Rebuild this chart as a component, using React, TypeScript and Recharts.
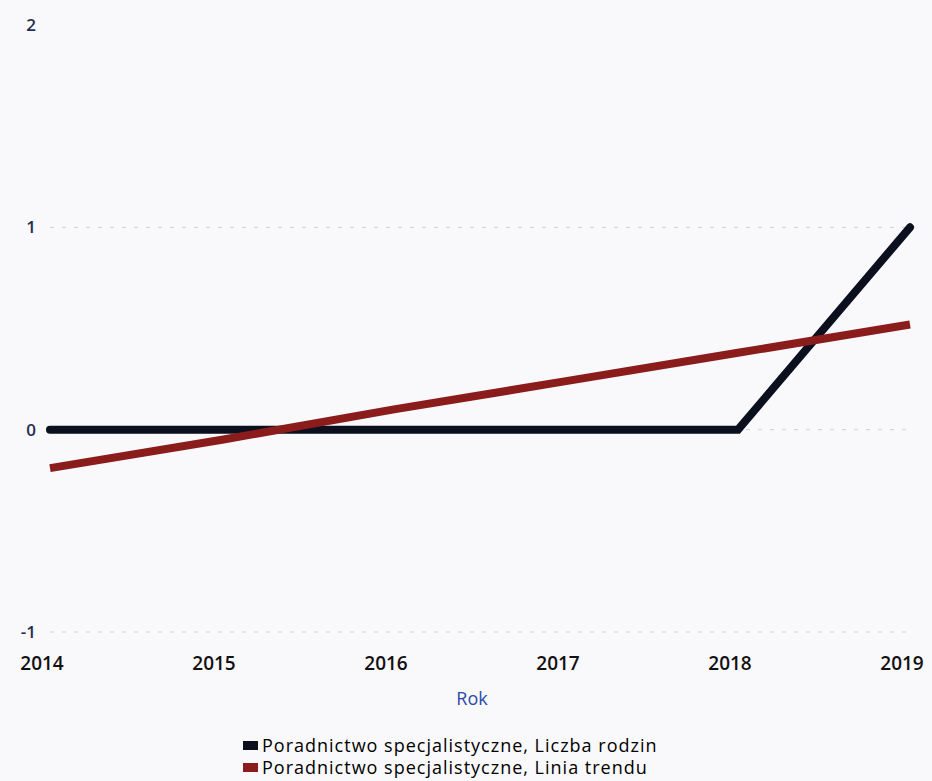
import React from 'react';
import {
  LineChart, Line, XAxis, YAxis, CartesianGrid,
} from 'recharts';

const years = ['2014', '2015', '2016', '2017', '2018', '2019'];
const families = [0, 0, 0, 0, 0, 1];
const trend = [-0.19, -0.05, 0.1, 0.24, 0.38, 0.52];
const yTicks = [-1, 0, 1, 2];
const gridValues = [-1, 0, 1];

const seriesNames = [
  'Poradnictwo specjalistyczne, Liczba rodzin',
  'Poradnictwo specjalistyczne, Linia trendu',
];
const colors = ['#0b0f1e', '#8a1c1c'];

const data = years.map((year, i) => ({ year, families: families[i], trend: trend[i] }));

const FONT = '"Open Sans", "DejaVu Sans", sans-serif';

const YearTick = ({ x, y, payload }: { x?: number; y?: number; payload?: { value: string } }) => (
  <text x={(x ?? 0) - 8} y={(y ?? 0) + 30} textAnchor="middle" fontFamily={FONT} fontSize={19} fontWeight={600} fill="#111">
    {payload?.value}
  </text>
);

const ValueTick = ({ x, y, payload }: { x?: number; y?: number; payload?: { value: number } }) => (
  <text x={(x ?? 0) - 6} y={(y ?? 0) + 6} textAnchor="end" fontFamily={FONT} fontSize={17} fontWeight={600} fill="#1f2d4d">
    {payload?.value}
  </text>
);

export default function App() {
  return (
    <div style={{ position: 'relative', width: 932, height: 781, background: '#f9f8fb', fontFamily: FONT }}>
      <style>{'body{margin:0}'}</style>
      <LineChart width={932} height={781} data={data} margin={{ top: 25, right: 22, bottom: 55, left: 0 }}>
        <CartesianGrid
          horizontal
          vertical={false}
          horizontalValues={gridValues}
          stroke="#d0d0d6"
          strokeDasharray="4 8"
        />
        <XAxis
          dataKey="year"
          height={94}
          axisLine={false}
          tickLine={false}
          interval={0}
          tick={<YearTick />}
          label={{ value: 'Rok', position: 'insideTop', offset: 60, fill: '#2b4aa8', fontSize: 18, fontFamily: FONT, dx: -8 }}
        />
        <YAxis
          width={50}
          domain={[-1, 2]}
          ticks={yTicks}
          axisLine={false}
          tickLine={false}
          tick={<ValueTick />}
        />
        <Line
          type="linear"
          dataKey="families"
          name={seriesNames[0]}
          stroke={colors[0]}
          strokeWidth={8}
          strokeLinecap="round"
          dot={false}
          isAnimationActive={false}
        />
        <Line
          type="linear"
          dataKey="trend"
          name={seriesNames[1]}
          stroke={colors[1]}
          strokeWidth={8}
          dot={false}
          isAnimationActive={false}
        />
      </LineChart>
      <div style={{ position: 'absolute', left: 243, top: 734, fontSize: 18, fontWeight: 500, letterSpacing: 1, color: '#000', lineHeight: '22px' }}>
        {seriesNames.map((name, i) => (
          <div key={name} style={{ display: 'flex', alignItems: 'center' }}>
            <span style={{ display: 'inline-block', width: 15, height: 9, background: colors[i], marginRight: 4 }} />
            {name}
          </div>
        ))}
      </div>
    </div>
  );
}
